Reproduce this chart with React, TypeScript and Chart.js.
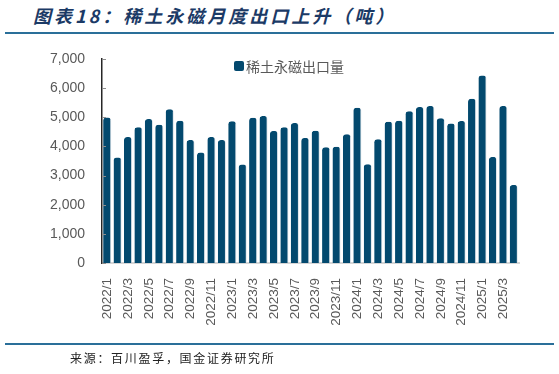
import React, { useEffect, useRef } from "react";
import { Chart, registerables } from "chart.js";

Chart.register(...registerables);

const months: string[] = [
  "2022/1","2022/2","2022/3","2022/4","2022/5","2022/6","2022/7","2022/8","2022/9","2022/10","2022/11","2022/12",
  "2023/1","2023/2","2023/3","2023/4","2023/5","2023/6","2023/7","2023/8","2023/9","2023/10","2023/11","2023/12",
  "2024/1","2024/2","2024/3","2024/4","2024/5","2024/6","2024/7","2024/8","2024/9","2024/10","2024/11","2024/12",
  "2025/1","2025/2","2025/3","2025/4",
];

const exportVolume: number[] = [
  4990, 3620, 4320, 4660, 4940, 4740, 5280, 4880, 4220, 3790, 4320, 4220,
  4860, 3380, 4980, 5040, 4530, 4660, 4800, 4290, 4540, 3975, 3985, 4420,
  5330, 3390, 4250, 4845, 4880, 5210, 5350, 5385, 4970, 4790, 4870, 5640,
  6430, 3640, 5385, 2680,
];

const seriesName = "稀土永磁出口量";
const titleText = "图表18：稀土永磁月度出口上升（吨）";
const sourceText = "来源：百川盈孚，国金证券研究所";
const yMax = 7000;
const yStep = 1000;

const BAR = "#03496e";

export default function App() {
  const ref = useRef<HTMLCanvasElement | null>(null);

  useEffect(() => {
    document.body.style.margin = "0";
    const inwardTicks = {
      id: "inwardTicks",
      afterDraw(chart: any) {
        const y = chart.scales.y;
        const ctx = chart.ctx;
        ctx.save();
        ctx.strokeStyle = "#8c8c8c";
        ctx.lineWidth = 1;
        y.ticks.forEach((t: any) => {
          const py = Math.round(y.getPixelForValue(t.value)) + 0.5;
          ctx.beginPath();
          ctx.moveTo(y.right, py);
          ctx.lineTo(y.right + 4, py);
          ctx.stroke();
        });
        ctx.restore();
      },
    };
    const chart = new Chart(ref.current as HTMLCanvasElement, {
      type: "bar",
      data: {
        labels: months,
        datasets: [
          {
            label: seriesName,
            data: exportVolume,
            backgroundColor: BAR,
            borderColor: "rgba(200,210,220,0.6)",
            borderWidth: { right: 1, top: 0, left: 0, bottom: 0 } as any,
            borderRadius: { topLeft: 3, topRight: 3, bottomLeft: 0, bottomRight: 0 },
            borderSkipped: false,
            categoryPercentage: 0.78,
            barPercentage: 1,
          },
        ],
      },
      options: {
        animation: false,
        responsive: false,
        maintainAspectRatio: false,
        layout: { padding: { left: 0, right: 40, top: 59, bottom: 41 } },
        plugins: { legend: { display: false }, tooltip: { enabled: false } },
        scales: {
          x: {
            afterFit: (s: any) => { s.height = 70; },
            grid: { display: false, drawTicks: false },
            border: { display: true, color: "#d6d6d6", width: 2 },
            ticks: {
              autoSkip: false,
              minRotation: 90,
              maxRotation: 90,
              padding: 15,
              color: "#595959",
              font: { family: "Liberation Sans", size: 13.5 },
              callback: (_v: any, i: number) => (i % 2 === 0 ? months[i] : ""),
            },
          },
          y: {
            min: 0,
            max: yMax,
            afterFit: (s: any) => { s.width = 102; },
            grid: { display: false, drawTicks: false },
            border: { display: true, color: "#262626", width: 1.5 },
            ticks: {
              stepSize: yStep,
              padding: 17,
              color: "#595959",
              font: { family: "Liberation Sans", size: 14 },
              callback: (v: any) => Number(v).toLocaleString("en-US"),
            },
          },
        },
      },
      plugins: [inwardTicks],
    });
    return () => chart.destroy();
  }, []);

  return (
    <div style={{ position: "relative", width: 559, height: 374, background: "#fff", overflow: "hidden" }}>
      <div
        style={{
          position: "absolute", left: 33, top: 3, fontFamily: "'Noto Sans CJK SC'", fontSize: 18,
          fontWeight: 700, fontStyle: "italic", color: "#1b3a66", letterSpacing: 3.0, whiteSpace: "nowrap",
          lineHeight: "24px",
        }}
      >
        {titleText}
      </div>
      <div style={{ position: "absolute", left: 5, top: 32, width: 549, height: 2, background: "#2a6f99" }} />
      <canvas ref={ref} width={559} height={374} style={{ position: "absolute", left: 0, top: 0 }} />
      <div
        style={{
          position: "absolute", left: 234, top: 56, display: "flex", alignItems: "center",
          fontFamily: "'Noto Sans CJK SC'", fontSize: 14, color: "#595959", whiteSpace: "nowrap", lineHeight: "20px",
        }}
      >
        <span style={{ display: "inline-block", width: 10, height: 10, borderRadius: 2, background: BAR, marginRight: 2 }} />
        <span>{seriesName}</span>
      </div>
      <div style={{ position: "absolute", left: 5, top: 343, width: 549, height: 2, background: "#2a6f99" }} />
      <div
        style={{
          position: "absolute", left: 70, top: 350, fontFamily: "'Noto Sans CJK SC'", fontSize: 12,
          color: "#222", letterSpacing: 1.7, whiteSpace: "nowrap", lineHeight: "16px",
        }}
      >
        {sourceText}
      </div>
    </div>
  );
}
